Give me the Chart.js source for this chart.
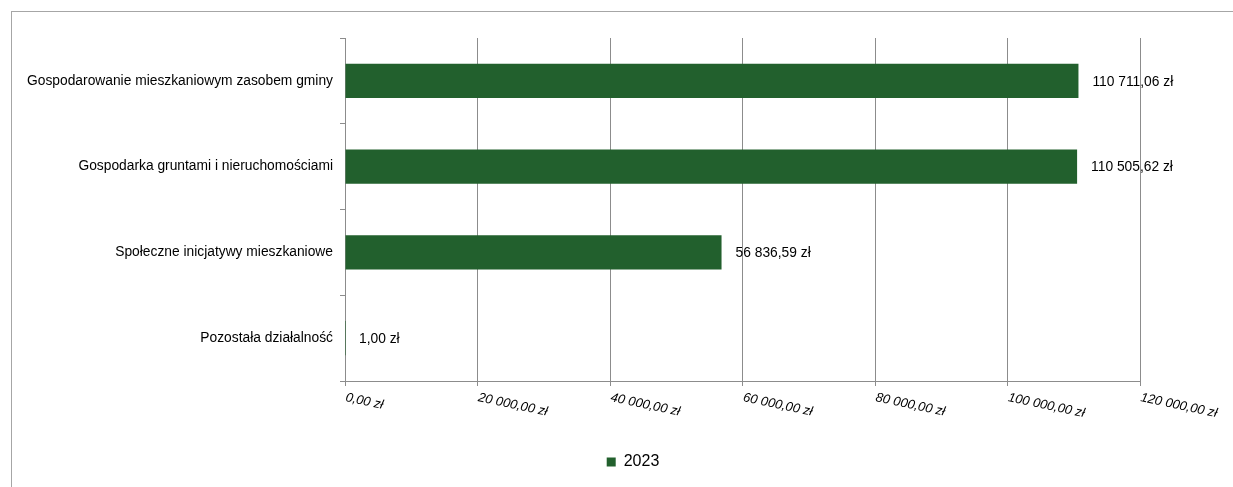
<!DOCTYPE html>
<html lang="pl">
<head>
<meta charset="utf-8">
<title>Wydatki 2023</title>
<script src="https://cdn.jsdelivr.net/npm/chart.js@4/dist/chart.umd.min.js"></script>
<style>
  html, body { margin: 0; padding: 0; background: #fff; overflow: hidden; }
  #ramka {
    position: absolute;
    left: 11px;
    top: 11px;
    width: 1242px;
    height: 480px;
    border-left: 1px solid #a6a6a6;
    border-top: 1px solid #a6a6a6;
  }
</style>
</head>
<body>
<div id="ramka">
  <canvas id="wykres" width="1242" height="480"></canvas>
</div>
<script>
const kategorie = [
  'Gospodarowanie mieszkaniowym zasobem gminy',
  'Gospodarka gruntami i nieruchomościami',
  'Społeczne inicjatywy mieszkaniowe',
  'Pozostała działalność'
];
const wartosci2023 = [110711.06, 110505.62, 56836.59, 1.00];
const osX = [0, 20000, 40000, 60000, 80000, 100000, 120000];

const ZIELONY = '#22602d';
const SZARY = '#8c8c8c';
const FONT = '"Liberation Sans", Arial, sans-serif';

function zl(v) {
  const [calk, ulamek] = v.toFixed(2).split('.');
  return calk.replace(/\B(?=(\d{3})+(?!\d))/g, ' ') + ',' + ulamek + ' zł';
}

// kwoty przy koncach slupkow
const etykietyWartosci = {
  id: 'etykietyWartosci',
  afterDatasetsDraw(chart) {
    const ctx = chart.ctx;
    const meta = chart.getDatasetMeta(0);
    ctx.save();
    ctx.font = '13.8px ' + FONT;
    ctx.fillStyle = '#000';
    ctx.textAlign = 'left';
    ctx.textBaseline = 'middle';
    meta.data.forEach((bar, i) => {
      ctx.fillText(zl(chart.data.datasets[0].data[i]), bar.x + 14, bar.y + 1);
    });
    ctx.restore();
  }
};

// pochylone opisy osi X (w dol w prawo)
const opisyOsiX = {
  id: 'opisyOsiX',
  afterDraw(chart) {
    const skala = chart.scales.x;
    const ctx = chart.ctx;
    ctx.save();
    ctx.font = 'italic 13px ' + FONT;
    ctx.fillStyle = '#000';
    ctx.textAlign = 'left';
    ctx.textBaseline = 'top';
    skala.ticks.forEach((t, i) => {
      const x = skala.getPixelForTick(i);
      ctx.save();
      ctx.translate(x + 2, skala.top + 10);
      ctx.rotate(12 * Math.PI / 180);
      ctx.fillText(zl(t.value), 0, 0);
      ctx.restore();
    });
    ctx.restore();
  }
};

const ctx = document.getElementById('wykres').getContext('2d');

new Chart(ctx, {
  type: 'bar',
  data: {
    labels: kategorie,
    datasets: [{
      label: '2023',
      data: wartosci2023,
      yAxisID: 'y',
      backgroundColor: ZIELONY,
      borderWidth: 0,
      categoryPercentage: 0.8,
      barPercentage: 0.5
    }]
  },
  options: {
    indexAxis: 'y',
    responsive: false,
    animation: false,
    layout: { padding: { left: 0, top: 26, right: 0, bottom: 12 } },
    scales: {
      x: {
        min: 0,
        max: 120000,
        afterBuildTicks(skala) {
          skala.ticks = osX.map(v => ({ value: v }));
        },
        afterFit(skala) { skala.height = 63; },
        grid: { color: SZARY, lineWidth: 1, drawTicks: true, tickLength: 5 },
        border: { color: SZARY },
        ticks: { display: false }
      },
      y: {
        afterFit(skala) { skala.width = 333; },
        grid: { drawOnChartArea: false, offset: true, color: SZARY, tickLength: 5 },
        border: { color: SZARY },
        ticks: {
          color: '#000',
          padding: 7,
          font: { family: FONT, size: 13.8 }
        }
      },
      // pusty margines po prawej na kwoty i ostatni opis osi
      prawa: {
        axis: 'y',
        type: 'category',
        position: 'right',
        afterFit(skala) { skala.width = 114; },
        grid: { display: false },
        border: { display: false },
        ticks: { display: false }
      }
    },
    plugins: {
      legend: {
        position: 'bottom',
        labels: {
          color: '#000',
          boxWidth: 9,
          boxHeight: 9,
          font: { family: FONT, size: 16 }
        }
      },
      tooltip: { enabled: false }
    }
  },
  plugins: [etykietyWartosci, opisyOsiX]
});
</script>
</body>
</html>
